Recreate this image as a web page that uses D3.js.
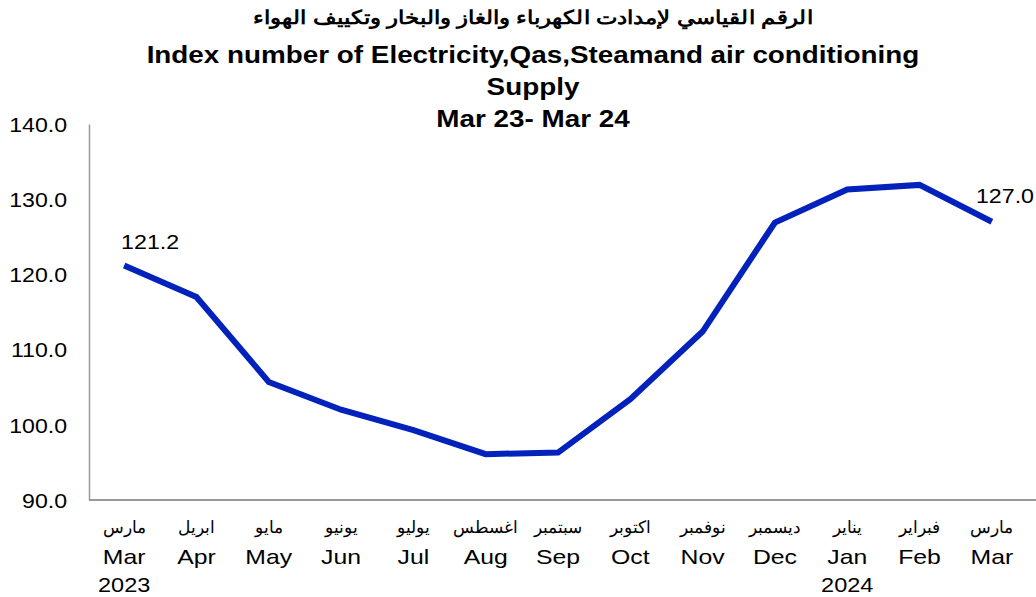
<!DOCTYPE html>
<html>
<head>
<meta charset="utf-8">
<script src="https://cdn.jsdelivr.net/npm/d3@7"></script>
<style>
  body { margin: 0; background: #fff; }
  text { font-family: "Liberation Sans", Arial, sans-serif; fill: #000; }
</style>
</head>
<body>
<div id="chart"></div>
<script>
const monthsAr = ["مارس", "ابريل", "مايو", "يونيو", "يوليو", "اغسطس", "سبتمبر", "اكتوبر", "نوفمبر", "ديسمبر", "يناير", "فبراير", "مارس"];
const monthsEn = ["Mar", "Apr", "May", "Jun", "Jul", "Aug", "Sep", "Oct", "Nov", "Dec", "Jan", "Feb", "Mar"];
const years = ["2023", "", "", "", "", "", "", "", "", "", "2024", "", ""];
const values = [121.2, 117.0, 105.7, 102.0, 99.3, 96.1, 96.3, 103.4, 112.4, 126.9, 131.3, 131.9, 127.0];
const yTicks = [90, 100, 110, 120, 130, 140];
const titleLines = [
  "الرقم القياسي لإمدادت الكهرباء والغاز والبخار وتكييف الهواء",
  "Index number of Electricity,Qas,Steamand air conditioning",
  "Supply",
  "Mar 23- Mar 24"
];

const W = 1036, H = 597;
const margin = { top: 124, right: 8, bottom: 97, left: 88 };

const svg = d3.select("#chart").append("svg")
  .attr("width", W)
  .attr("height", H);

// widen text horizontally (the original looks stretched)
function stretch(sel, k) {
  sel.each(function() {
    const w = this.getComputedTextLength();
    if (w > 0) d3.select(this).attr("textLength", w * k).attr("lengthAdjust", "spacingAndGlyphs");
  });
}

const idx = d3.range(values.length);
const x = d3.scaleBand().domain(idx).range([margin.left, 1028]);
const y = d3.scaleLinear().domain([90, 140]).range([H - margin.bottom, margin.top]);
const cx = i => x(i) + x.bandwidth() / 2;

// title
const title = svg.append("g").attr("text-anchor", "middle").attr("font-weight", "bold");
title.append("text").attr("x", 533).attr("y", 24).attr("font-size", 19).text(titleLines[0]).call(stretch, 1.2);
title.append("text").attr("x", 533).attr("y", 63).attr("font-size", 23).text(titleLines[1]).call(stretch, 1.21);
title.append("text").attr("x", 533).attr("y", 95).attr("font-size", 23).text(titleLines[2]).call(stretch, 1.21);
title.append("text").attr("x", 533).attr("y", 127).attr("font-size", 23).text(titleLines[3]).call(stretch, 1.21);

// y axis
const yAxis = svg.append("g")
  .attr("transform", `translate(${margin.left + 1},0)`)
  .call(d3.axisLeft(y).tickValues(yTicks).tickSize(0).tickPadding(22).tickFormat(d3.format(".1f")));
yAxis.select(".domain").attr("stroke", "#999").attr("stroke-width", 1.5);
yAxis.selectAll(".tick text").attr("font-size", 21).attr("dy", "0.35em").call(stretch, 1.1);

// x axis
const xAxis = svg.append("g")
  .attr("transform", `translate(0,${y(90)})`)
  .call(d3.axisBottom(x).tickSize(0).tickFormat(""));
xAxis.select(".domain").attr("stroke", "#999").attr("stroke-width", 2)
  .attr("d", `M${margin.left + 1},0H${W}`);

const lab = xAxis.selectAll(".tick");
lab.append("text").attr("y", 33).attr("font-size", 17).attr("direction", "rtl")
  .text(i => monthsAr[i]);
lab.append("text").attr("y", 64).attr("font-size", 21).text(i => monthsEn[i]).call(stretch, 1.18);
lab.append("text").attr("y", 92).attr("font-size", 21).text(i => years[i]).call(stretch, 1.12);

// line
const line = d3.line().x((d, i) => cx(i)).y(d => y(d));
svg.append("path")
  .datum(values)
  .attr("fill", "none")
  .attr("stroke", "#0222BB")
  .attr("stroke-width", 6)
  .attr("d", line);

// end labels
const last = values.length - 1;
svg.append("text")
  .attr("x", cx(0) + 26)
  .attr("y", y(values[0]) - 16)
  .attr("text-anchor", "middle")
  .attr("font-size", 20)
  .text(values[0].toFixed(1))
  .call(stretch, 1.16);
svg.append("text")
  .attr("x", W - 2)
  .attr("y", y(values[last]) - 19)
  .attr("text-anchor", "end")
  .attr("font-size", 20)
  .text(values[last].toFixed(1))
  .call(stretch, 1.16);
</script>
</body>
</html>
